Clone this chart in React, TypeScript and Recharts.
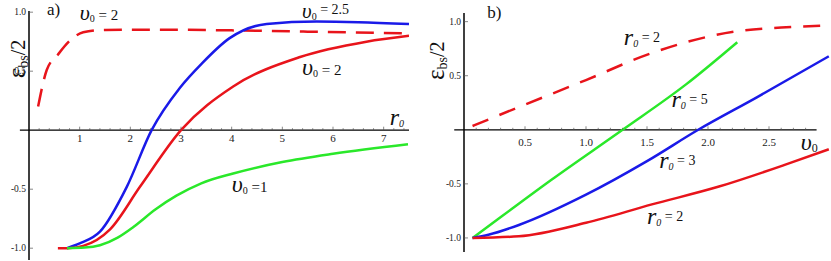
import React from 'react';
import { LineChart, Line, XAxis, YAxis, ReferenceLine, ReferenceDot } from 'recharts';

const SERIF = "Liberation Serif, Times New Roman, Times, serif";
const RED = '#e8141b';
const BLUE = '#1a1ae8';
const GREEN = '#2ae82a';
const INK = '#111';

// ---------- Panel a: eps_bs/2 vs r0 ----------
const aDashV2: [number, number][] = [
  [0.18, 0.2], [0.35, 0.51], [0.57, 0.64], [0.81, 0.76], [1.07, 0.83], [1.5, 0.85],
  [2.5, 0.852], [4.0, 0.846], [5.5, 0.835], [7.5, 0.82],
];
const aBlueV25: [number, number][] = [
  [0.75, -1], [1.0, -0.96], [1.4, -0.86], [1.93, -0.48], [2.42, 0], [2.98, 0.36],
  [3.4, 0.56], [3.96, 0.78], [4.69, 0.9], [5.68, 0.92], [6.5, 0.915], [7.5, 0.9],
];
const aRedV2: [number, number][] = [
  [0.57, -1], [0.75, -1], [1.07, -0.98], [1.6, -0.84], [2.19, -0.48], [3.0, 0],
  [4.03, 0.37], [5.35, 0.62], [6.66, 0.75], [7.5, 0.8],
];
const aGreenV1: [number, number][] = [
  [0.75, -1], [1.1, -0.995], [1.4, -0.975], [1.75, -0.91], [2.06, -0.82], [2.5, -0.67], [2.91, -0.555],
  [3.4, -0.45], [4.03, -0.367], [5.0, -0.27], [6.0, -0.2], [7.48, -0.12],
];
const aXMajor = [1, 2, 3, 4, 5, 6, 7];
const aXMinor = [0.2, 0.4, 0.6, 0.8, 1, 1.2, 1.4, 1.6, 1.8, 2, 2.2, 2.4, 2.6, 2.8, 3, 3.2, 3.4, 3.6, 3.8, 4,
  4.2, 4.4, 4.6, 4.8, 5, 5.2, 5.4, 5.6, 5.8, 6, 6.2, 6.4, 6.6, 6.8, 7, 7.2, 7.4];
const yTicks = [-1, -0.5, 0.5, 1];

// ---------- Panel b: eps_bs/2 vs v0 ----------
const bDashR2: [number, number][] = [
  [0.07, 0.035], [0.45, 0.21], [1.0, 0.46], [1.54, 0.71], [2.23, 0.91], [2.6, 0.945], [2.99, 0.965],
];
const bGreenR5: [number, number][] = [
  [0.07, -1], [0.31, -0.8], [0.72, -0.46], [1.3, 0], [1.82, 0.42], [2.24, 0.81],
];
const bBlueR3: [number, number][] = [
  [0.07, -1], [0.2, -0.97], [0.45, -0.88], [1.0, -0.6], [1.5, -0.29], [1.92, 0], [2.4, 0.3], [2.99, 0.68],
];
const bRedR2: [number, number][] = [
  [0.07, -1], [0.45, -0.985], [1.0, -0.86], [1.54, -0.69], [2.09, -0.525], [2.64, -0.32], [2.99, -0.18],
];
const bXMajor = [0.5, 1, 1.5, 2, 2.5];
const bXMinor = [0.1, 0.2, 0.3, 0.4, 0.5, 0.6, 0.7, 0.8, 0.9, 1, 1.1, 1.2, 1.3, 1.4, 1.5, 1.6, 1.7, 1.8, 1.9, 2,
  2.1, 2.2, 2.3, 2.4, 2.5, 2.6, 2.7, 2.8];

const pts = (arr: [number, number][]) => arr.map(([x, y]) => ({ x, y }));

// ---------- layout constants ----------
const H = 261;
const A = { w: 420, top: 11, bottom: 0, right: 11, yw: 29, xDom: [0, 7.5], yDom: [-1.1, 1.01], labDy: 12 };
const B = { w: 411, top: 13, bottom: 8, right: 1, yw: 44, xDom: [0, 3], yDom: [-1.13, 1.08], labDy: 16 };
const XH = 1;
const zeroY = (p: any) => p.top + (H - p.top - p.bottom - XH) * p.yDom[1] / (p.yDom[1] - p.yDom[0]);

const near = (list: number[], v: number) => list.some((m) => Math.abs(m - v) < 1e-6);

const makeXTick = (p: any, majors: number[], fmt: (v: number) => string) => (props: any) => {
  const { x, payload } = props;
  const v = payload.value;
  const zy = zeroY(p);
  const major = near(majors, v);
  return (
    <g>
      <line x1={x} x2={x} y1={zy} y2={zy - (major ? 3.5 : 2)} stroke="#555" strokeWidth={0.7} />
      {major && (
        <text x={x} y={zy + p.labDy} textAnchor="middle" fontSize={11} fontFamily={SERIF} fill="#222">
          {fmt(v)}
        </text>
      )}
    </g>
  );
};

const YTick = (props: any) => {
  const { x, y, payload } = props;
  return (
    <g>
      <line x1={x + 3} x2={x + 7} y1={y} y2={y} stroke="#555" strokeWidth={0.7} />
      <text x={x} y={y + 3} textAnchor="end" fontSize={9.5} fontFamily={SERIF} fill="#222">
        {payload.value.toFixed(1)}
      </text>
    </g>
  );
};

type AnnoSpec = {
  x: number; y: number; main: string; sub?: string; rest?: string;
  mainSize?: number; subSize?: number; restSize?: number; restDy?: number; mainItalic?: boolean; subItalic?: boolean;
};

const annoLabel = (s: AnnoSpec) => (props: any) => {
  const vb = props.viewBox;
  if (!vb) return null;
  const mainSize = s.mainSize ?? 24;
  const subSize = s.subSize ?? 10;
  const restSize = s.restSize ?? 14;
  const restDy = s.restDy ?? 0;
  return (
    <text x={vb.x} y={vb.y} fontFamily={SERIF} fill={INK}>
      <tspan fontSize={mainSize} fontStyle={s.mainItalic === false ? 'normal' : 'italic'}>{s.main}</tspan>
      {s.sub && (
        <tspan fontSize={subSize} dy={2} fontStyle={s.subItalic ? 'italic' : 'normal'}>{s.sub}</tspan>
      )}
      {s.rest && (
        <tspan fontSize={restSize} dy={(s.sub ? -2 : 0) + restDy}>{s.rest}</tspan>
      )}
    </text>
  );
};

const yLabel = (props: any) => {
  const vb = props.viewBox;
  if (!vb) return null;
  return (
    <text x={vb.x} y={vb.y} transform={`rotate(-90 ${vb.x} ${vb.y})`} fontFamily={SERIF} fill={INK}>
      <tspan fontSize={25}>ε</tspan>
      <tspan fontSize={14} dy={3}>bs</tspan>
      <tspan fontSize={20} dy={-3}>/2</tspan>
    </text>
  );
};

const aAnnos: AnnoSpec[] = [
  { x: 0.355, y: 0.975, main: 'a)', mainItalic: false, mainSize: 17 },
  { x: 1.0, y: 0.93, main: 'υ', sub: '0', rest: ' = 2', restSize: 15, mainSize: 22 },
  { x: 5.39, y: 0.95, main: 'υ', sub: '0', rest: ' = 2.5', restSize: 14, restDy: -4, mainSize: 21 },
  { x: 5.39, y: 0.466, main: 'υ', sub: '0', rest: ' = 2', restSize: 15 },
  { x: 7.12, y: 0.042, main: 'r', sub: '0', subItalic: true },
  { x: 4.0, y: -0.525, main: 'υ', sub: '0', rest: '  =1', restSize: 15 },
];
const bAnnos: AnnoSpec[] = [
  { x: 0.19, y: 1.03, main: 'b)', mainItalic: false, mainSize: 17 },
  { x: 1.31, y: 0.787, main: 'r', sub: '0', subItalic: true, rest: ' = 2', restDy: -3 },
  { x: 1.70, y: 0.213, main: 'r', sub: '0', subItalic: true, rest: ' = 5', restDy: -3 },
  { x: 1.60, y: -0.352, main: 'r', sub: '0', subItalic: true, rest: ' = 3', restDy: -3 },
  { x: 1.50, y: -0.87, main: 'r', sub: '0', subItalic: true, rest: ' = 2', restDy: -3 },
  { x: 2.76, y: -0.185, main: 'υ', sub: '0', subSize: 12 },
];

const lineCommon = { type: 'monotone' as const, dataKey: 'y', dot: false, isAnimationActive: false, strokeWidth: 2.5 };

const Panel = ({ p, left, series, annos, yLab, xMajor, xMinor, fmt, axisSeg }: any) => (
  <div style={{ position: 'absolute', left, top: 0 }}>
    <LineChart width={p.w} height={H} margin={{ top: p.top, right: p.right, bottom: p.bottom, left: 0 }}>
      <XAxis
        type="number" dataKey="x" domain={p.xDom} allowDataOverflow ticks={xMinor} interval={0}
        height={XH} axisLine={false} tickLine={false} tick={makeXTick(p, xMajor, fmt)}
      />
      <YAxis
        type="number" domain={p.yDom} allowDataOverflow ticks={yTicks} interval={0} width={p.yw}
        axisLine={{ stroke: '#000', strokeWidth: 1.5 }} tickLine={false} tickSize={2} tickMargin={1} tick={<YTick />}
      />
      <ReferenceLine
        segment={[{ x: axisSeg[0], y: 0 }, { x: axisSeg[1], y: 0 }]}
        stroke="#000" strokeWidth={1.3} ifOverflow="visible"
      />
      {series.map((s: any, i: number) => (
        <Line key={i} {...lineCommon} data={pts(s.data)} stroke={s.color} strokeDasharray={s.dash} />
      ))}
      {annos.map((a: AnnoSpec, i: number) => (
        <ReferenceDot key={'a' + i} x={a.x} y={a.y} r={0} fill="none" stroke="none" ifOverflow="visible" label={annoLabel(a)} />
      ))}
      <ReferenceDot x={yLab[0]} y={yLab[1]} r={0} fill="none" stroke="none" ifOverflow="visible" label={yLabel} />
    </LineChart>
  </div>
);

export default function App() {
  return (
    <div style={{ position: 'absolute', left: 0, top: 0, width: 831, height: H, background: '#fff', overflow: 'hidden' }}>
      <Panel
        p={A} left={0}
        series={[
          { data: aDashV2, color: RED, dash: '18 10' },
          { data: aBlueV25, color: BLUE },
          { data: aRedV2, color: RED },
          { data: aGreenV1, color: GREEN },
        ]}
        annos={aAnnos} yLab={[-0.08, 0.44]} xMajor={aXMajor} xMinor={aXMinor}
        fmt={(v: number) => String(v)} axisSeg={[-0.18, 7.5]}
      />
      <Panel
        p={B} left={420}
        series={[
          { data: bDashR2, color: RED, dash: '17 12' },
          { data: bGreenR5, color: GREEN },
          { data: bBlueR3, color: BLUE },
          { data: bRedR2, color: RED },
        ]}
        annos={bAnnos} yLab={[-0.16, 0.46]} xMajor={bXMajor} xMinor={bXMinor}
        fmt={(v: number) => v.toFixed(1)} axisSeg={[-0.08, 2.89]}
      />
    </div>
  );
}
